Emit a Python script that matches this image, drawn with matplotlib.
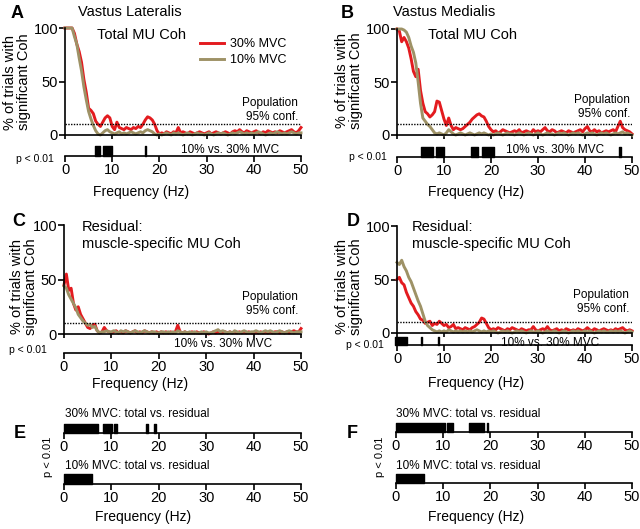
import numpy as np
import matplotlib
matplotlib.use('Agg')
import matplotlib.pyplot as plt

plt.rcParams['font.family'] = ['Liberation Sans', 'DejaVu Sans']

# frequency axis (Hz), 0.5 Hz steps
freq = np.arange(0, 50.5, 0.5)

# % of trials with significant coherence
A_30 = [100, 100, 100, 100, 95, 85, 78, 68, 52, 40,
        25, 23, 20, 13, 10, 8, 12, 16, 18, 16,
        8, 5, 12, 7, 6, 5, 7, 6, 5, 7,
        6, 8, 7, 10, 14, 17, 16, 14, 10, 4,
        1, 2, 1, 3, 2, 1, 3, 2, 7, 2,
        3, 2, 1, 3, 2, 1, 2, 3, 2, 1,
        2, 3, 1, 2, 3, 2, 1, 2, 3, 2,
        1, 3, 4, 3, 5, 3, 2, 4, 3, 2,
        3, 4, 2, 1, 3, 2, 4, 3, 2, 3,
        2, 4, 3, 2, 3, 4, 5, 3, 2, 4,
        7]
A_10 = [100, 100, 100, 100, 92, 85, 72, 60, 45, 33,
        22, 15, 9, 4, 1, 0, 2, 4, 5, 3,
        2, 1, 2, 3, 1, 2, 1, 2, 3, 2,
        1, 2, 3, 2, 4, 5, 4, 3, 1, 0,
        1, 0, 1, 2, 1, 0, 2, 1, 2, 1,
        0, 1, 2, 1, 0, 1, 2, 1, 1, 0,
        1, 2, 1, 0, 1, 2, 1, 2, 1, 0,
        1, 2, 1, 2, 3, 2, 1, 2, 1, 2,
        1, 2, 3, 2, 1, 0, 1, 2, 1, 2,
        3, 2, 1, 2, 1, 2, 3, 2, 1, 2,
        2]
B_30 = [100, 98, 88, 92, 88, 82, 72, 60, 55, 62,
        42, 30, 22, 20, 17, 19, 22, 32, 31, 23,
        15, 9, 16, 9, 5, 7, 6, 5, 6, 8,
        10, 12, 15, 17, 19, 20, 18, 17, 13, 8,
        5, 3, 4, 2, 3, 5, 4, 3, 2, 3,
        4, 3, 5, 2, 3, 4, 3, 2, 5, 3,
        4, 3, 5, 7, 4, 3, 5, 4, 2, 3,
        4, 3, 2, 4, 3, 2, 3, 4, 5, 3,
        6, 8, 4, 3, 5, 3, 4, 2, 3, 4,
        3, 4, 5, 3, 8, 13, 7, 5, 4, 3,
        1]
B_10 = [100, 100, 100, 99, 97, 92, 84, 78, 68, 50,
        30, 16, 13, 10, 8, 5, 2, 1, 2, 1,
        0, 2, 5, 3, 1, 0, 1, 2, 1, 0,
        1, 2, 1, 0, 1, 2, 1, 2, 1, 0,
        1, 0, 1, 2, 1, 0, 1, 2, 1, 1,
        0, 1, 2, 1, 0, 1, 2, 1, 0, 1,
        2, 1, 0, 1, 2, 1, 1, 0, 1, 2,
        1, 2, 1, 0, 1, 2, 1, 2, 1, 0,
        1, 2, 1, 2, 1, 0, 1, 2, 1, 2,
        1, 0, 1, 2, 1, 2, 3, 1, 2, 1,
        0]
C_30 = [45, 55, 40, 42, 28, 22, 25, 18, 14, 10,
        6, 5, 8, 9, 3, 1, 2, 6, 3, 2,
        1, 2, 3, 1, 2, 1, 3, 2, 1, 2,
        3, 1, 2, 1, 3, 2, 1, 2, 1, 2,
        1, 2, 1, 2, 1, 2, 1, 2, 8, 2,
        1, 2, 1, 1, 2, 1, 2, 1, 1, 2,
        1, 0, 1, 2, 1, 2, 1, 1, 2, 1,
        2, 1, 2, 1, 2, 1, 2, 1, 2, 1,
        1, 2, 1, 2, 1, 2, 1, 2, 1, 2,
        2, 1, 2, 1, 2, 1, 2, 3, 2, 2,
        5]
C_10 = [44, 42, 36, 32, 28, 24, 18, 15, 12, 10,
        8, 9, 6, 7, 3, 1, 2, 2, 3, 2,
        2, 3, 2, 1, 3, 2, 3, 2, 1, 2,
        3, 2, 1, 2, 3, 2, 1, 2, 2, 1,
        1, 2, 2, 1, 2, 1, 2, 1, 3, 2,
        1, 2, 1, 2, 1, 2, 1, 1, 2, 1,
        2, 1, 1, 2, 3, 4, 2, 3, 2, 1,
        2, 1, 3, 2, 1, 2, 3, 2, 1, 2,
        2, 3, 2, 1, 2, 3, 2, 3, 2, 1,
        2, 3, 2, 1, 2, 3, 2, 1, 2, 2,
        2]
D_30 = [50, 52, 47, 45, 38, 33, 28, 25, 20, 17,
        13, 12, 9, 10, 11, 7, 9, 8, 11, 9,
        7, 8, 5, 6, 8, 4, 5, 4, 3, 5,
        4, 3, 5, 6, 8, 10, 14, 13, 9, 5,
        3, 4, 3, 5, 4, 3, 2, 4, 3, 5,
        4, 3, 2, 4, 3, 2, 3, 3, 6, 3,
        2, 3, 4, 3, 6, 3, 2, 3, 4, 2,
        3, 2, 4, 3, 2, 3, 2, 4, 3, 2,
        3, 5, 3, 2, 4, 3, 2, 3, 4, 3,
        2, 3, 2, 4, 3, 4, 5, 3, 2, 3,
        2]
D_10 = [66, 64, 68, 62, 58, 52, 48, 42, 36, 30,
        25, 18, 11, 7, 5, 3, 2, 1, 2, 1,
        2, 1, 3, 2, 1, 2, 1, 2, 1, 2,
        1, 2, 1, 2, 3, 2, 1, 2, 1, 2,
        1, 2, 1, 0, 1, 2, 1, 2, 1, 0,
        1, 2, 1, 2, 1, 0, 1, 2, 1, 1,
        2, 1, 0, 1, 2, 1, 1, 2, 1, 0,
        1, 2, 1, 0, 1, 2, 1, 2, 1, 1,
        2, 1, 2, 1, 0, 1, 2, 1, 2, 1,
        1, 2, 1, 2, 1, 2, 1, 0, 1, 2,
        1]

# p < 0.01 frequency bands (start, end in Hz)
A_sig = [(6.4, 7.4), (8.1, 10.0), (16.9, 17.2)]
B_sig = [(5.0, 7.7), (8.2, 10.1), (15.8, 17.3), (18.1, 20.6), (47.2, 47.6)]
C_sig = []
D_sig = [(-0.5, 2.2), (5.0, 5.4), (8.7, 9.0)]
E30_sig = [(0.0, 7.1), (8.3, 10.2), (10.5, 11.1), (17.4, 17.8), (18.9, 19.4)]
E10_sig = [(0.0, 6.0)]
F30_sig = [(0.0, 10.4), (10.7, 12.0), (15.4, 18.7), (19.2, 19.5)]
F10_sig = [(0.0, 6.0)]

RED = '#e31b1f'
OLIVE = '#9e9266'
W, H = 640, 529
TICK = 10.5


def box(l, t, r, b):
    return [l / W, 1 - b / H, (r - l) / W, (b - t) / H]


def ftext(x, y, s, **kw):
    return fig.text(x / W, 1 - y / H, s, **kw)


def main_panel(rect, y30, y10):
    ax = fig.add_axes(box(*rect))
    ax.plot(freq, y30, color=RED, lw=2.1, clip_on=False, label='30% MVC')
    ax.plot(freq, y10, color=OLIVE, lw=2.1, clip_on=False, label='10% MVC')
    ax.axhline(10, color='k', lw=1.0, ls=(0, (1, 1)))
    ax.set_xlim(0, 50)
    ax.set_ylim(0, 100)
    ax.set_yticks([0, 50, 100])
    ax.set_xticks(range(0, 51, 10))
    ax.set_xticklabels([])
    for s in ['top', 'right']:
        ax.spines[s].set_visible(False)
    for s in ['left', 'bottom']:
        ax.spines[s].set_linewidth(1.2)
    ax.tick_params(axis='y', length=4, width=1.2, labelsize=TICK, pad=1)
    ax.tick_params(axis='x', length=3, width=1.2)
    return ax


def strip(rect, bands):
    ax = fig.add_axes(box(*rect))
    if bands:
        ax.broken_barh([(s, e - s) for s, e in bands], (0, 1), color='k', clip_on=False)
    ax.set_xlim(0, 50)
    ax.set_ylim(0, 1)
    ax.set_yticks([])
    ax.set_xticks(range(0, 51, 10))
    for s in ['top', 'right', 'left']:
        ax.spines[s].set_visible(False)
    ax.spines['bottom'].set_linewidth(1.2)
    ax.tick_params(axis='x', length=4, width=1.2, labelsize=TICK, pad=1)
    return ax


fig = plt.figure(figsize=(6.4, 5.29), dpi=100)

# A
axA = main_panel((65, 28, 301, 135), A_30, A_10)
strip((65, 146, 301, 156), A_sig)
axA.legend(loc='upper left', bbox_to_anchor=(200 / W, 1 - 38 / H), bbox_transform=fig.transFigure,
           frameon=False, fontsize=9, handlelength=1.9, handletextpad=0.5, labelspacing=0.35,
           borderpad=0, borderaxespad=0)
# B
main_panel((397, 29, 632, 135), B_30, B_10)
strip((397, 147, 632, 157), B_sig)
# C
main_panel((64, 225, 301, 334), C_30, C_10)
strip((64, 343, 301, 353), C_sig)
# D
main_panel((397, 226, 632, 333), D_30, D_10)
strip((397, 337, 632, 345), D_sig)
# E
strip((64, 424, 301, 433), E30_sig)
strip((64, 474, 301, 484), E10_sig)
# F
strip((396, 423, 632, 432), F30_sig)
strip((396, 474, 632, 483), F10_sig)

# panel letters
for x, y, s in [(17, 13, 'A'), (347, 13, 'B'), (19, 222, 'C'), (353, 222, 'D'),
                (20, 434, 'E'), (352, 434, 'F')]:
    ftext(x, y, s, fontsize=13, fontweight='bold', ha='center', va='center')

# titles
ftext(78, 12, 'Vastus Lateralis', fontsize=10.5, va='center')
ftext(393, 12, 'Vastus Medialis', fontsize=10.5, va='center')
ftext(97, 35, 'Total MU Coh', fontsize=10.5, va='center')
ftext(428, 35, 'Total MU Coh', fontsize=10.5, va='center')
for x, y in [(82, 227), (412, 227)]:
    ftext(x, y, 'Residual:', fontsize=10.5, va='center')
    ftext(x, y + 17, 'muscle-specific MU Coh', fontsize=10.5, va='center')

# y labels
for x, y in [(17, 82), (349, 81), (24, 287), (349, 287)]:
    ftext(x, y, '% of trials with\nsignificant Coh', fontsize=10.5, rotation=90,
          ha='center', va='center', multialignment='center', linespacing=1.05)

# population confidence
for x, y in [(298, 103), (630, 100), (298, 297), (629, 295)]:
    ftext(x, y, 'Population', fontsize=8.5, ha='right', va='center')
    ftext(x, y + 14, '95% conf.', fontsize=8.5, ha='right', va='center')

# comparison labels
for x, y in [(230, 150), (555, 150), (223, 344), (550, 343)]:
    ftext(x, y, '10% vs. 30% MVC', fontsize=8.5, ha='center', va='center')
for x, y in [(35, 159), (368, 157), (28, 350), (365, 345)]:
    ftext(x, y, 'p < 0.01', fontsize=7.5, ha='center', va='center')

# frequency labels
for x, y in [(141, 192), (476, 192), (140, 384), (476, 383), (143, 517), (476, 517)]:
    ftext(x, y, 'Frequency (Hz)', fontsize=10, ha='center', va='center')

# E / F labels
for x in [65, 396]:
    ftext(x, 414, '30% MVC: total vs. residual', fontsize=8.5, va='center')
    ftext(x, 466, '10% MVC: total vs. residual', fontsize=8.5, va='center')
for x in [48, 380]:
    ftext(x, 457, 'p < 0.01', fontsize=8, rotation=90, ha='center', va='center')

fig.savefig('out.png', dpi=100)
